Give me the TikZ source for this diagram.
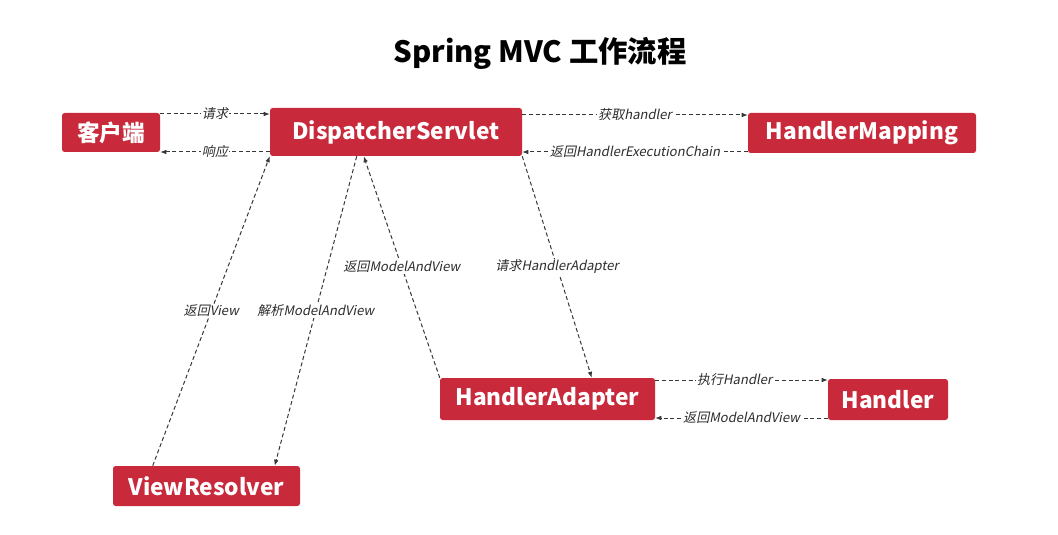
\documentclass[tikz,border=0pt]{standalone}
\usepackage{fontspec}
\setmainfont{Noto Sans CJK SC}
\newfontfamily\lblfont[FakeSlant=0.2]{Noto Sans CJK SC}
\usetikzlibrary{arrows.meta,calc}
\definecolor{boxred}{RGB}{200,42,60}
\definecolor{wire}{RGB}{55,55,55}
\definecolor{lbltext}{RGB}{45,45,45}

\begin{document}
\begin{tikzpicture}[x=0.75pt,y=-0.75pt,
    box/.style={fill=boxred,text=white,font=\bfseries\fontsize{17}{20}\selectfont,rounded corners=2pt,inner sep=0pt},
    flow/.style={draw=wire,densely dashed,line width=0.75pt,-{Latex[length=4.5pt,width=3.5pt]}},
    tag/.style={fill=white,inner sep=1pt,text=lbltext,font=\lblfont\fontsize{9.8}{11}\selectfont}]
  \useasboundingbox (0,0) rectangle (1058,535);
  \node[font=\bfseries\fontsize{22}{26}\selectfont] (title) at (540,53) {Spring MVC 工作流程};
  % components
  \foreach \n/\x/\y/\w/\h/\t in {
      client/111/132.5/98/39/客户端,
      ds/396/132/252/48/DispatcherServlet,
      hm/862/133/228/40/HandlerMapping,
      ha/547.5/399/215/42/HandlerAdapter,
      hd/888/399.5/120/41/Handler,
      vr/206.5/486/187/40/ViewResolver}
  {
    \node[box,minimum width=\w*0.75pt,minimum height=\h*0.75pt] (\n) at (\x,\y) {\t};
  }
  % requests and replies
  \draw[flow] ($(client.east)+(0,-18.5)$) -- node[tag]{请求} ($(ds.west)+(0,-18)$);
  \draw[flow] ($(ds.west)+(0,20)$) -- node[tag]{响应} ($(client.east)+(0,19.5)$);
  \draw[flow] ($(ds.east)+(0,-17)$) -- node[tag]{获取handler} ($(hm.west)+(0,-18)$);
  \draw[flow] ($(hm.west)+(0,19)$) -- node[tag]{返回HandlerExecutionChain} ($(ds.east)+(0,20)$);
  \draw[flow] (ds.south east) -- node[tag]{请求HandlerAdapter} ($(ha.north west)+(152,0)$);
  \draw[flow] (ha.north west) -- node[tag]{返回ModelAndView} ($(ds.south west)+(94,0)$);
  \draw[flow] ($(ds.south west)+(87,0)$) -- node[tag]{解析ModelAndView} ($(vr.north west)+(162,0)$);
  \draw[flow] ($(vr.north west)+(40,0)$) -- node[tag]{返回View} (ds.south west);
  \draw[flow] ($(ha.east)+(0,-19)$) -- node[tag,pos=0.46]{执行Handler} ($(hd.west)+(0,-19.5)$);
  \draw[flow] ($(hd.west)+(0,18.5)$) -- node[tag]{返回ModelAndView} ($(ha.east)+(0,19)$);
\end{tikzpicture}
\end{document}
